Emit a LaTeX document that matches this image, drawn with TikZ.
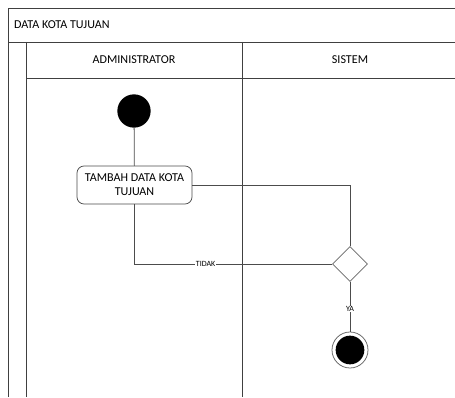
\documentclass[tikz,border=0pt]{standalone}
\usepackage{fontspec}
\setmainfont{Carlito}
\usetikzlibrary{shapes.geometric}
\begin{document}
\begin{tikzpicture}[x=0.03cm,y=-0.03cm,
        lane/.style={draw=black!75,line width=0.75pt},
        flow/.style={draw=black!70,line width=0.65pt},
        act/.style={draw=black!70,line width=0.65pt,rounded corners=6pt,fill=white,
            minimum width=3.45cm,minimum height=1.14cm,align=center,inner sep=1pt,
            font=\fontsize{10.3}{12}\selectfont},
        startnode/.style={circle,fill=black,minimum size=1.0cm,inner sep=0pt},
        endout/.style={circle,draw=black!60,line width=0.65pt,fill=white,minimum size=1.08cm,inner sep=0pt},
        endin/.style={circle,fill=black,minimum size=0.86cm,inner sep=0pt},
        decision/.style={diamond,draw=black!60,line width=0.65pt,fill=white,minimum size=1.05cm,inner sep=0pt},
        lbl/.style={fill=white,inner sep=0.5pt,font=\fontsize{6.8}{8}\selectfont},
        head/.style={font=\fontsize{10.3}{12}\selectfont}]
        \useasboundingbox (0,0) rectangle (455,397);

        % swimlane frame
        \draw[lane] (8,397) -- (8,8) -- (455,8);
        \draw[lane] (8,42) -- (455,42);
        \draw[lane] (26,42) -- (26,397);
        \draw[lane] (26,78) -- (455,78);
        \draw[lane] (242,42) -- (242,397);

        \node[head, anchor=west] (title) at (10,25) {DATA KOTA TUJUAN};
        \node[head] (admin) at (134,60) {ADMINISTRATOR};
        \node[head] (sistem) at (350,60) {SISTEM};

        % activity nodes
        \node[startnode] (start) at (134,111) {};
        \node[act] (tambah) at (134.5,185) {TAMBAH DATA KOTA\\TUJUAN};
        \node[decision] (cek) at (350,264) {};
        \node[endout] (end) at (350,350) {};
        \node[endin] (endfill) at (end) {};

        % connectors
        \draw[flow] (start) -- (tambah);
        \draw[flow] (tambah.east) -| (cek.north);
        \draw[flow] (cek.west) -| node[lbl, pos=0.32] {TIDAK} (tambah.south);
        \draw[flow] (cek.south) -- node[lbl, pos=0.55] {YA} (end);
    \end{tikzpicture}
\end{document}
